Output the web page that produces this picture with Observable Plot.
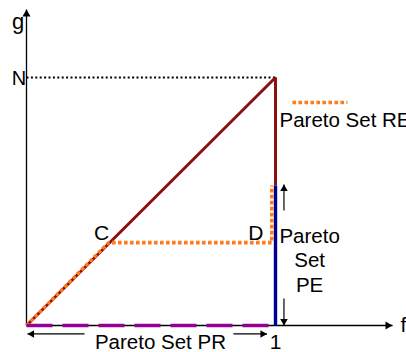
<!DOCTYPE html>
<html>
<head>
<meta charset="utf-8">
<script src="https://cdn.jsdelivr.net/npm/d3@7"></script>
<script src="https://cdn.jsdelivr.net/npm/@observablehq/plot@0.6"></script>
<style>
  html, body { margin: 0; padding: 0; background: #fff; }
  #chart svg { display: block; }
</style>
</head>
<body>
<div id="chart"></div>
<script>
// ---- data (in f / g units: f = 1 at the "1" tick, g = 1 at level N) ----
const axisEnd = { f: 1.47, g: 1.274 };
const nLevel = 1;
const frontF = [0, 1, 1];          // dark red front
const frontG = [0, 1, 0.565];
const peF = [1, 1];                // Pareto Set PE (blue)
const peG = [0.565, 0];
const reF = [0, 0.33, 0.985, 0.985]; // Pareto Set RE (orange dotted)
const reG = [0, 0.334, 0.334, 0.565];
const prF = [0, 0.985];            // Pareto Set PR (purple dashed)
const prG = [0, 0];
const pointC = { f: 0.33, g: 0.334 };
const pointD = { f: 0.985, g: 0.334 };
const legendF = [1.068, 1.289];
const legendG = 0.899;
const peArrowF = 1.034;
const peArrowUp = [0.464, 0.5685];
const peArrowDown = [0.109, 0];
const prArrowG = -0.034;
const prArrowLeft = [0.233, 0.004];
const prArrowRight = [0.831, 0.966];
const tickLabels = ["1"];
const tickValues = [1];

const idx = a => a.map((_, i) => i);
const font = "Liberation Sans, Arial, sans-serif";
const orange = "#ff7b1c";

const chart = Plot.plot({
  width: 406,
  height: 352,
  margin: 0,
  style: { fontFamily: font, background: "#fff", overflow: "hidden" },
  x: { domain: [0, 1], range: [26, 275], axis: null },
  y: { domain: [0, 1], range: [325, 77], axis: null },
  marks: [
    // axes
    Plot.link([0], { x1: 0, y1: 0, x2: 0, y2: axisEnd.g, stroke: "black", strokeWidth: 1.3 }),
    Plot.link([0], { x1: 0, y1: 0, x2: axisEnd.f, y2: 0, stroke: "black", strokeWidth: 1.3 }),
    Plot.dot([0], { x: 0, y: axisEnd.g, symbol: "triangle", r: 3, fill: "black", stroke: null, dy: 4.67 }),
    Plot.dot([0], { x: axisEnd.f, y: 0, symbol: "triangle", r: 3, fill: "black", stroke: null, rotate: 90, dx: -4.67 }),
    // N dotted level
    Plot.link([0], { x1: 0, y1: nLevel, x2: 1, y2: nLevel, stroke: "black", strokeWidth: 2, strokeDasharray: "2,2.4", strokeLinecap: "butt" }),
    // front
    Plot.line(idx(frontF), { x: frontF, y: frontG, stroke: "#8c1010", strokeWidth: 3, strokeLinecap: "butt", strokeLinejoin: "miter" }),
    Plot.line(idx(peF), { x: peF, y: peG, stroke: "#00008f", strokeWidth: 3.4, strokeLinecap: "butt" }),
    Plot.line(idx(reF), { x: reF, y: reG, stroke: orange, strokeWidth: 3.6, strokeDasharray: "3.6,2.4", strokeLinecap: "butt", strokeLinejoin: "miter" }),
    Plot.line(idx(prF), { x: prF, y: prG, stroke: "#950095", strokeWidth: 3.6, strokeDasharray: "26,10", strokeLinecap: "butt" }),
    // legend
    Plot.link([0], { x1: legendF[0], y1: legendG, x2: legendF[1], y2: legendG, stroke: orange, strokeWidth: 3.6, strokeDasharray: "3.6,2.4", strokeLinecap: "butt" }),
    Plot.text(["Pareto Set RE"], { x: legendF[0] - 0.052, y: legendG, text: d => d, textAnchor: "start", lineAnchor: "bottom", dy: 24, fontSize: 20.5 }),
    // PE arrows
    Plot.link([0], { x1: peArrowF, y1: peArrowUp[0], x2: peArrowF, y2: peArrowUp[1], stroke: "black", strokeWidth: 1.2 }),
    Plot.dot([0], { x: peArrowF, y: peArrowUp[1], symbol: "triangle", r: 2.8, fill: "black", stroke: null, dy: 4.4 }),
    Plot.link([0], { x1: peArrowF, y1: peArrowDown[0], x2: peArrowF, y2: peArrowDown[1], stroke: "black", strokeWidth: 1.2 }),
    Plot.dot([0], { x: peArrowF, y: peArrowDown[1], symbol: "triangle", r: 2.8, fill: "black", stroke: null, rotate: 180, dy: -4.4 }),
    Plot.text(["Pareto\nSet\nPE"], { x: 1.137, y: 0.137, text: d => d, textAnchor: "middle", lineAnchor: "bottom", lineHeight: 1.18, fontSize: 20.5 }),
    // PR arrows
    Plot.link([0], { x1: prArrowLeft[0], y1: prArrowG, x2: prArrowLeft[1], y2: prArrowG, stroke: "black", strokeWidth: 1.2 }),
    Plot.dot([0], { x: prArrowLeft[1], y: prArrowG, symbol: "triangle", r: 2.8, fill: "black", stroke: null, rotate: 270, dx: 4.4 }),
    Plot.link([0], { x1: prArrowRight[0], y1: prArrowG, x2: prArrowRight[1], y2: prArrowG, stroke: "black", strokeWidth: 1.2 }),
    Plot.dot([0], { x: prArrowRight[1], y: prArrowG, symbol: "triangle", r: 2.8, fill: "black", stroke: null, rotate: 90, dx: -4.4 }),
    Plot.text(["Pareto Set PR"], { x: 0.538, y: 0, text: d => d, textAnchor: "middle", lineAnchor: "bottom", dy: 23.5, fontSize: 20.5 }),
    // tick label and axis labels
    Plot.text(tickValues, { x: d => d, y: 0, text: (d, i) => tickLabels[i], textAnchor: "middle", lineAnchor: "bottom", dy: 23.5, fontSize: 21 }),
    Plot.text(["f"], { x: axisEnd.f, y: 0, text: d => d, textAnchor: "start", lineAnchor: "bottom", dx: 8, dy: 6, fontSize: 21 }),
    Plot.text(["g"], { x: 0, y: axisEnd.g, text: d => d, textAnchor: "middle", lineAnchor: "bottom", dx: -8.5, dy: 19.5, fontSize: 22 }),
    Plot.text(["N"], { x: 0, y: nLevel, text: d => d, textAnchor: "middle", lineAnchor: "bottom", dx: -7.5, dy: 7, fontSize: 20 }),
    // point labels
    Plot.text([pointC], { x: "f", y: "g", text: () => "C", textAnchor: "middle", lineAnchor: "bottom", dx: -7, dy: -3, fontSize: 21 }),
    Plot.text([pointD], { x: "f", y: "g", text: () => "D", textAnchor: "middle", lineAnchor: "bottom", dx: -16, dy: -3, fontSize: 21 })
  ]
});
document.getElementById("chart").appendChild(chart);
</script>
</body>
</html>
